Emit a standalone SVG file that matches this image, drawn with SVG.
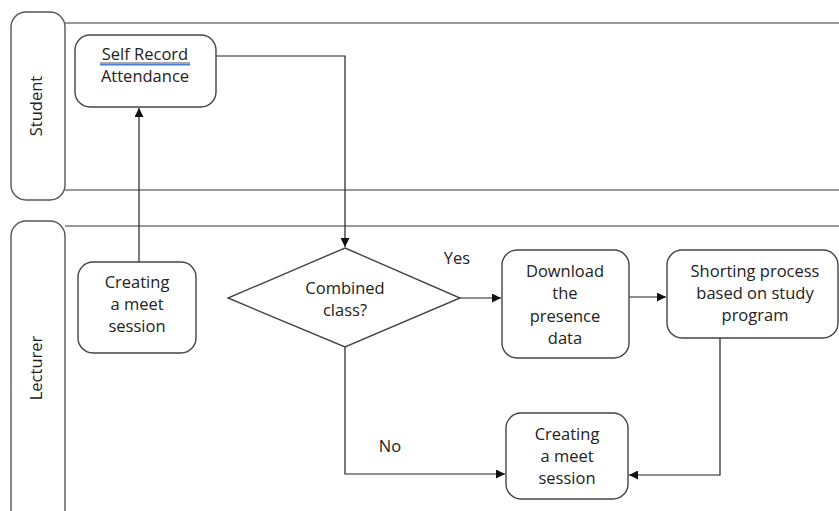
<svg xmlns="http://www.w3.org/2000/svg" width="839" height="511" viewBox="0 0 839 511">
  <style>
    .lane { fill: none; stroke: #333; stroke-width: 1.2; }
    .lanehead { fill: #fff; stroke: #555; stroke-width: 1.4; }
    .box { fill: #fff; stroke: #444; stroke-width: 1.4; }
    .txt { font-family: "Open Sans", "Liberation Sans", sans-serif; font-size: 16.5px; fill: #222; text-anchor: middle; }
    .conn { fill: none; stroke: #222; stroke-width: 1.2; }
  </style>
  <defs>
    <marker id="arrow" viewBox="0 0 10 10" refX="10" refY="5" markerWidth="9" markerHeight="9" markerUnits="userSpaceOnUse" orient="auto">
      <path d="M0,0 L10,5 L0,10 z" fill="#111"/>
    </marker>
  </defs>
  <rect width="839" height="511" fill="#fff"/>

  <!-- swimlanes -->
  <g id="lane-student">
    <line class="lane" x1="65" y1="23" x2="839" y2="23"/>
    <line class="lane" x1="65" y1="190" x2="839" y2="190"/>
    <rect class="lanehead" x="11" y="12" width="54" height="188" rx="15"/>
    <text class="txt" transform="translate(42,106) rotate(-90)">Student</text>
  </g>
  <g id="lane-lecturer">
    <line class="lane" x1="65" y1="226" x2="839" y2="226"/>
    <rect class="lanehead" x="11" y="221" width="54" height="320" rx="15"/>
    <text class="txt" transform="translate(42,368) rotate(-90)">Lecturer</text>
  </g>

  <!-- connectors -->
  <g id="connectors">
    <polyline class="conn" points="216,56 345,56 345,247" marker-end="url(#arrow)"/>
    <line class="conn" x1="139" y1="262" x2="139" y2="108" marker-end="url(#arrow)"/>
    <line class="conn" x1="460" y1="298" x2="501" y2="298" marker-end="url(#arrow)"/>
    <line class="conn" x1="629" y1="297" x2="666" y2="297" marker-end="url(#arrow)"/>
    <polyline class="conn" points="345,347 345,474 505,474" marker-end="url(#arrow)"/>
    <polyline class="conn" points="720,338 720,475 629,475" marker-end="url(#arrow)"/>
    <text class="txt" x="457" y="264">Yes</text>
    <text class="txt" x="390" y="452">No</text>
  </g>

  <!-- nodes -->
  <g id="self-record">
    <rect class="box" x="75" y="35" width="141" height="72" rx="15"/>
    <text class="txt" x="145" y="60">Self Record</text>
    <line x1="100" y1="63" x2="190" y2="63" stroke="#222" stroke-width="0.8"/>
    <line x1="100" y1="64.8" x2="190" y2="64.8" stroke="#4a7fd6" stroke-width="1.4"/>
    <text class="txt" x="145" y="82">Attendance</text>
  </g>

  <g id="create-session-1">
    <rect class="box" x="78" y="262" width="118" height="91" rx="15"/>
    <text class="txt" x="137" y="288">Creating</text>
    <text class="txt" x="137" y="310">a meet</text>
    <text class="txt" x="137" y="332">session</text>
  </g>

  <g id="combined-class">
    <polygon class="box" points="345,248 460,298 345,347 228,298"/>
    <text class="txt" x="345" y="294">Combined</text>
    <text class="txt" x="345" y="316">class?</text>
  </g>

  <g id="download">
    <rect class="box" x="502" y="250" width="127" height="108" rx="15"/>
    <text class="txt" x="565" y="277">Download</text>
    <text class="txt" x="565" y="299">the</text>
    <text class="txt" x="565" y="322">presence</text>
    <text class="txt" x="565" y="344">data</text>
  </g>

  <g id="sorting">
    <rect class="box" x="667" y="250" width="171" height="88" rx="15"/>
    <text class="txt" x="755" y="277">Shorting process</text>
    <text class="txt" x="755" y="299">based on study</text>
    <text class="txt" x="755" y="321">program</text>
  </g>

  <g id="create-session-2">
    <rect class="box" x="506" y="413" width="122" height="86" rx="15"/>
    <text class="txt" x="567" y="440">Creating</text>
    <text class="txt" x="567" y="462">a meet</text>
    <text class="txt" x="567" y="484">session</text>
  </g>
</svg>
